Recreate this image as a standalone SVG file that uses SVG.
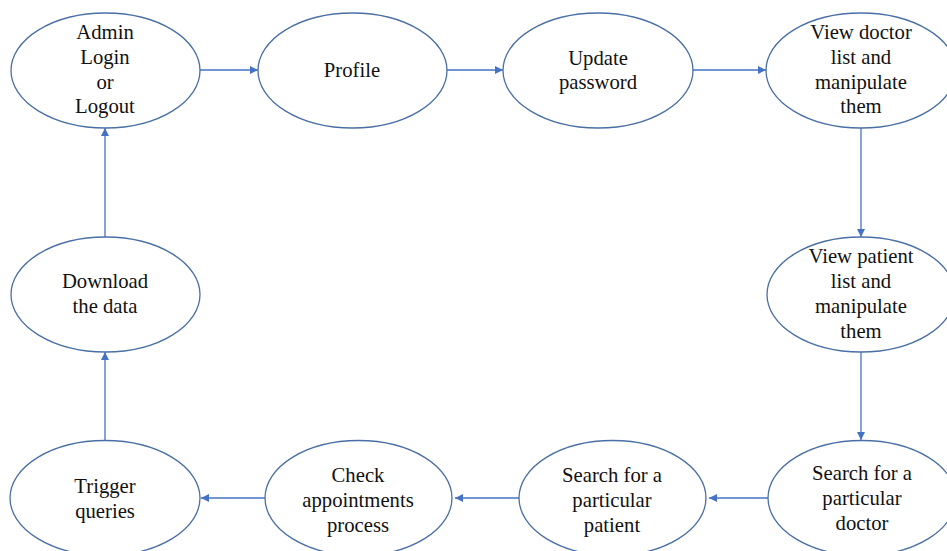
<svg xmlns="http://www.w3.org/2000/svg" width="947" height="551" viewBox="0 0 947 551">
  <defs>
    <marker id="arrow" viewBox="0 0 10 10" refX="10" refY="5" markerWidth="8" markerHeight="8" markerUnits="userSpaceOnUse" orient="auto">
      <path d="M0,0 L10,5 L0,10 z" fill="#4472C4"/>
    </marker>
  </defs>
  <style>
    .node ellipse { fill: #ffffff; stroke: #4A6FA5; stroke-width: 1.3; }
    .node text { font-family: "Liberation Serif", "Times New Roman", serif; font-size: 20.7px; fill: #111111; text-anchor: middle; }
    .edges line { stroke: #4472C4; stroke-width: 1.3; marker-end: url(#arrow); }
  </style>
  <rect width="947" height="551" fill="#ffffff"/>

  <g class="edges">
    <line x1="200" y1="70" x2="258" y2="70"/>
    <line x1="447" y1="70" x2="503" y2="70"/>
    <line x1="693" y1="70" x2="766" y2="70"/>
    <line x1="861" y1="128" x2="861" y2="237"/>
    <line x1="861" y1="352" x2="861" y2="440"/>
    <line x1="768" y1="498" x2="709" y2="498"/>
    <line x1="519" y1="498" x2="455" y2="498"/>
    <line x1="265" y1="498" x2="201" y2="498"/>
    <line x1="105" y1="440" x2="105" y2="352"/>
    <line x1="105" y1="237" x2="105" y2="128"/>
  </g>

  <g id="admin-login" class="node">
    <ellipse cx="105.5" cy="70.5" rx="94.5" ry="57.5"/>
    <text x="105" y="39">Admin</text>
    <text x="105" y="64">Login</text>
    <text x="105" y="89">or</text>
    <text x="105" y="113">Logout</text>
  </g>

  <g id="profile" class="node">
    <ellipse cx="352.5" cy="70.5" rx="94.5" ry="57.5"/>
    <text x="352" y="77">Profile</text>
  </g>

  <g id="update-password" class="node">
    <ellipse cx="598" cy="70.5" rx="95" ry="57.5"/>
    <text x="598" y="65">Update</text>
    <text x="598" y="89">password</text>
  </g>

  <g id="view-doctors" class="node">
    <ellipse cx="861" cy="70.5" rx="95" ry="57.5"/>
    <text x="861" y="39">View doctor</text>
    <text x="861" y="64">list and</text>
    <text x="861" y="89">manipulate</text>
    <text x="861" y="113">them</text>
  </g>

  <g id="view-patients" class="node">
    <ellipse cx="861" cy="294.5" rx="94" ry="57.5"/>
    <text x="861" y="263">View patient</text>
    <text x="861" y="288">list and</text>
    <text x="861" y="313">manipulate</text>
    <text x="861" y="338">them</text>
  </g>

  <g id="search-doctor" class="node">
    <ellipse cx="862" cy="498" rx="94" ry="57.5"/>
    <text x="862" y="480">Search for a</text>
    <text x="862" y="505">particular</text>
    <text x="862" y="530">doctor</text>
  </g>

  <g id="search-patient" class="node">
    <ellipse cx="612.5" cy="498" rx="93.5" ry="57.5"/>
    <text x="612" y="482">Search for a</text>
    <text x="612" y="507">particular</text>
    <text x="612" y="532">patient</text>
  </g>

  <g id="check-appointments" class="node">
    <ellipse cx="358.5" cy="498" rx="93.5" ry="57.5"/>
    <text x="358" y="482">Check</text>
    <text x="358" y="507">appointments</text>
    <text x="358" y="532">process</text>
  </g>

  <g id="trigger-queries" class="node">
    <ellipse cx="105" cy="498" rx="95" ry="57.5"/>
    <text x="105" y="493">Trigger</text>
    <text x="105" y="518">queries</text>
  </g>

  <g id="download-data" class="node">
    <ellipse cx="105.5" cy="294.5" rx="94.5" ry="57.5"/>
    <text x="105" y="288">Download</text>
    <text x="105" y="313">the data</text>
  </g>
</svg>
